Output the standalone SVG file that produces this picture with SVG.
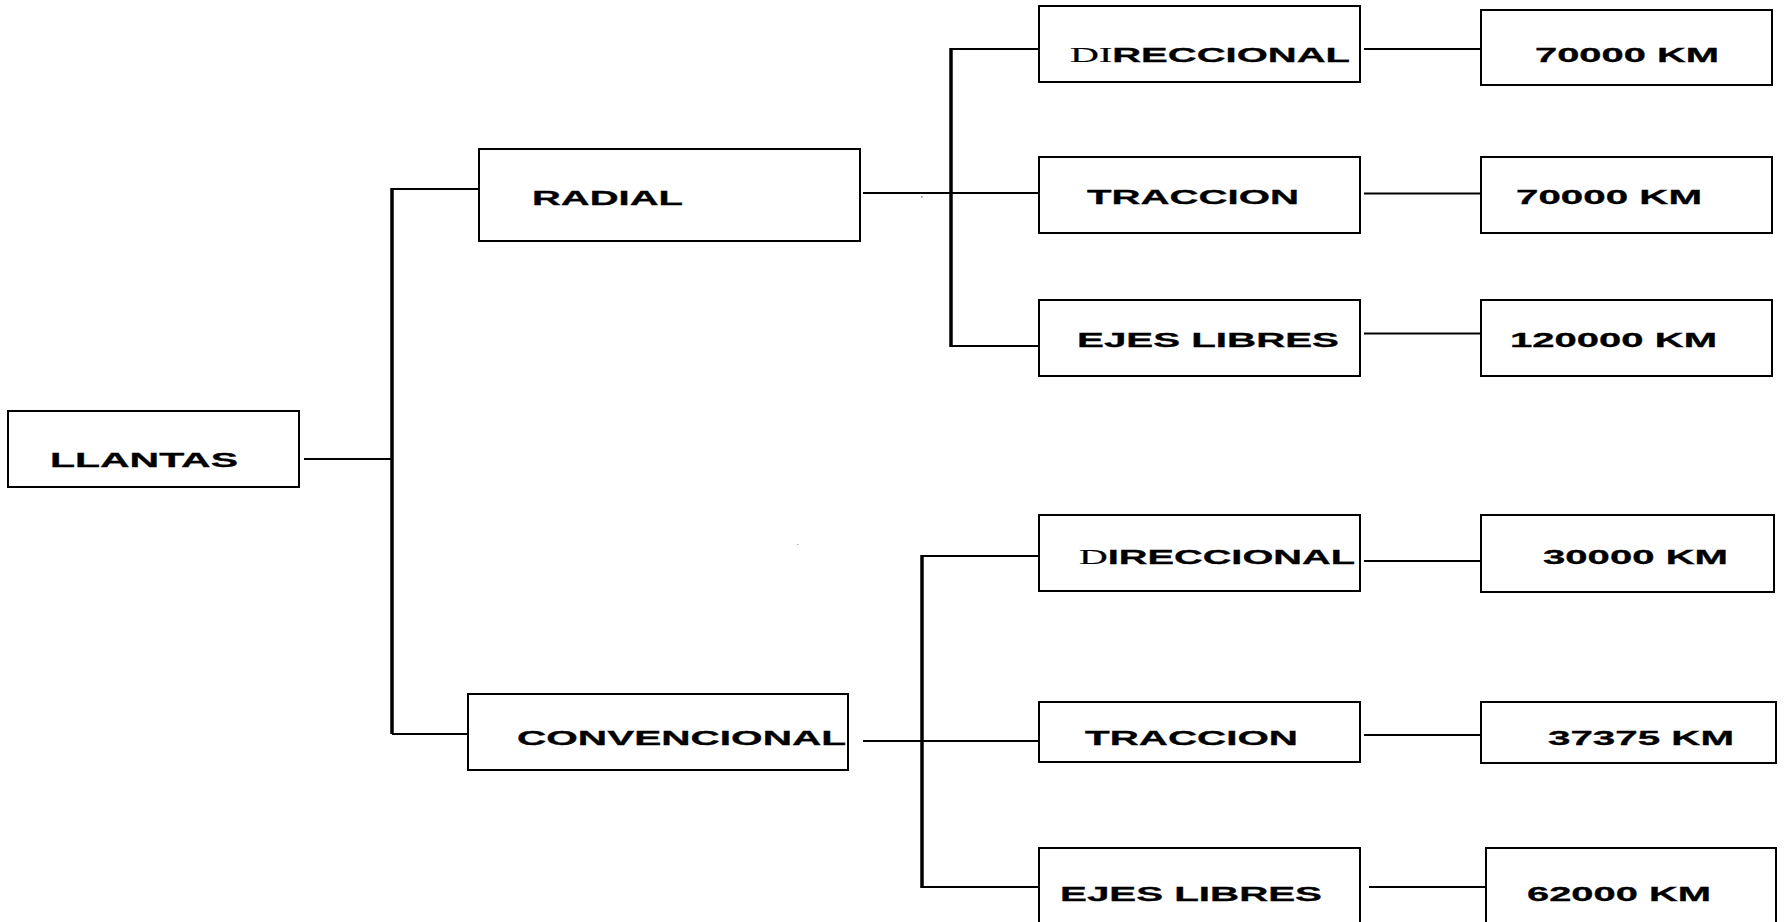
<svg xmlns="http://www.w3.org/2000/svg" width="1785" height="922" viewBox="0 0 1785 922">
<style>
.box{fill:#fff;stroke:#000;stroke-width:2}
.t{font-family:"Liberation Sans",Arial,sans-serif;font-weight:bold;font-size:21px;fill:#000;stroke:#000;stroke-width:0.3}
.s{font-family:"Liberation Serif","Times New Roman",serif;font-weight:normal;stroke-width:0.2}
.c{stroke:#000;stroke-width:2;fill:none}
.v{stroke:#000;stroke-width:3.5;fill:none}
</style>
<rect width="1785" height="922" fill="#fff"/>
<g id="connectors">
<line class="c" x1="304" y1="459" x2="392" y2="459"/>
<line class="v" x1="392" y1="188" x2="392" y2="734"/>
<line class="c" x1="392" y1="189" x2="479" y2="189"/>
<line class="c" x1="392" y1="734" x2="468" y2="734"/>
<line class="c" x1="863" y1="193" x2="1039" y2="193"/>
<line class="v" x1="951" y1="48" x2="951" y2="347"/>
<line class="c" x1="951" y1="49" x2="1039" y2="49"/>
<line class="c" x1="951" y1="346" x2="1039" y2="346"/>
<line class="c" x1="863" y1="741" x2="1039" y2="741"/>
<line class="v" x1="922" y1="555" x2="922" y2="888"/>
<line class="c" x1="922" y1="556" x2="1049" y2="556"/>
<line class="c" x1="922" y1="887" x2="1039" y2="887"/>
<line class="c" x1="1364" y1="49" x2="1481" y2="49"/>
<line class="c" x1="1364" y1="193.5" x2="1481" y2="193.5"/>
<line class="c" x1="1364" y1="333.5" x2="1481" y2="333.5"/>
<line class="c" x1="1364" y1="561" x2="1481" y2="561"/>
<line class="c" x1="1364" y1="735" x2="1481" y2="735"/>
<line class="c" x1="1369" y1="887" x2="1486" y2="887"/>
<rect x="921" y="196" width="1.5" height="1.5" fill="#888"/>
<rect x="797" y="544" width="1.5" height="1" fill="#aaa"/>
</g>
<g id="llantas"><rect class="box" x="8" y="411" width="291" height="76"/><text class="t" x="50" y="467" textLength="188" lengthAdjust="spacingAndGlyphs">LLANTAS</text></g>
<g id="radial"><rect class="box" x="479" y="149" width="381" height="92"/><text class="t" x="532" y="205" textLength="151" lengthAdjust="spacingAndGlyphs">RADIAL</text></g>
<g id="convencional"><rect class="box" x="468" y="694" width="380" height="76"/><text class="t" x="517" y="745" textLength="329" lengthAdjust="spacingAndGlyphs">CONVENCIONAL</text></g>
<g id="direccional1"><rect class="box" x="1039" y="6" width="321" height="76"/><text class="t" x="1070" y="62" textLength="280" lengthAdjust="spacingAndGlyphs"><tspan class="s">DI</tspan>RECCIONAL</text></g>
<g id="traccion1"><rect class="box" x="1039" y="157" width="321" height="76"/><text class="t" x="1087" y="204" textLength="212" lengthAdjust="spacingAndGlyphs">TRACCION</text></g>
<g id="ejes1"><rect class="box" x="1039" y="300" width="321" height="76"/><text class="t" x="1077" y="347" textLength="262" lengthAdjust="spacingAndGlyphs">EJES LIBRES</text></g>
<g id="direccional2"><rect class="box" x="1039" y="515" width="321" height="76"/><text class="t" x="1079" y="564" textLength="276" lengthAdjust="spacingAndGlyphs"><tspan class="s">D</tspan>IRECCIONAL</text></g>
<g id="traccion2"><rect class="box" x="1039" y="702" width="321" height="60"/><text class="t" x="1085" y="745" textLength="213" lengthAdjust="spacingAndGlyphs">TRACCION</text></g>
<g id="ejes2"><rect class="box" x="1039" y="848" width="321" height="90"/><text class="t" x="1060" y="901" textLength="262" lengthAdjust="spacingAndGlyphs">EJES LIBRES</text></g>
<g id="km1"><rect class="box" x="1481" y="10" width="291" height="75"/><text class="t" x="1535" y="62" textLength="184" lengthAdjust="spacingAndGlyphs">70000 KM</text></g>
<g id="km2"><rect class="box" x="1481" y="157" width="291" height="76"/><text class="t" x="1516" y="204" textLength="186" lengthAdjust="spacingAndGlyphs">70000 KM</text></g>
<g id="km3"><rect class="box" x="1481" y="300" width="291" height="76"/><text class="t" x="1510" y="347" textLength="207" lengthAdjust="spacingAndGlyphs">120000 KM</text></g>
<g id="km4"><rect class="box" x="1481" y="515" width="293" height="77"/><text class="t" x="1543" y="564" textLength="185" lengthAdjust="spacingAndGlyphs">30000 KM</text></g>
<g id="km5"><rect class="box" x="1481" y="702" width="295" height="61"/><text class="t" x="1548" y="745" textLength="186" lengthAdjust="spacingAndGlyphs">37375 KM</text></g>
<g id="km6"><rect class="box" x="1486" y="848" width="290" height="90"/><text class="t" x="1527" y="901" textLength="184" lengthAdjust="spacingAndGlyphs">62000 KM</text></g>
</svg>
